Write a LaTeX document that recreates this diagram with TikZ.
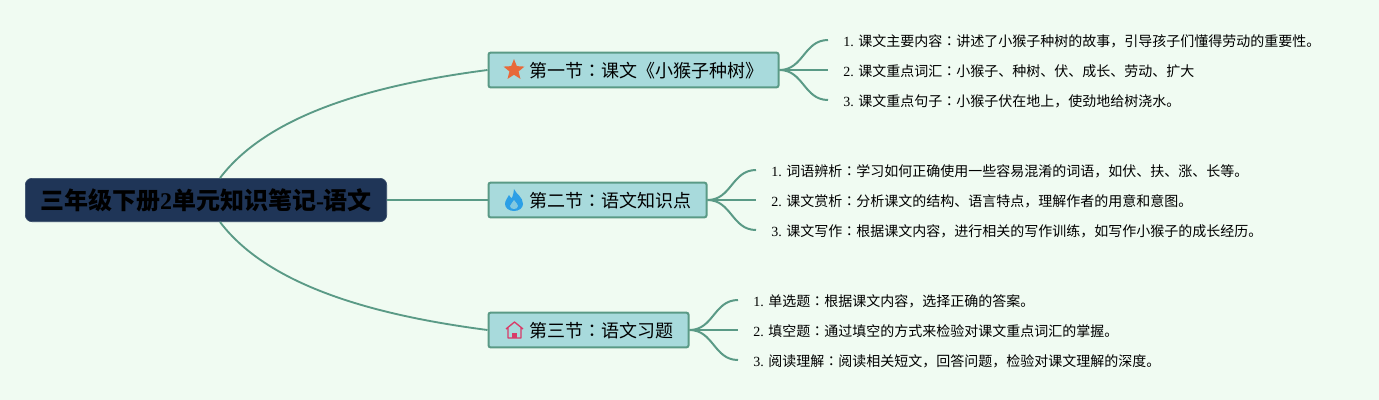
\documentclass[tikz,border=0pt]{standalone}
\usepackage{fontspec}
\setmainfont{Liberation Serif}
\newfontfamily\cjk{Noto Sans CJK SC}
\newfontfamily\cjktc{Noto Sans CJK TC}
\usetikzlibrary{shapes.geometric}
\definecolor{pagebg}{HTML}{F0FBF2}
\definecolor{rootfill}{HTML}{1F3557}
\definecolor{secfill}{HTML}{A8DADC}
\definecolor{linecol}{HTML}{5A9A86}
\definecolor{starcol}{HTML}{E8693A}
\definecolor{flamecol}{HTML}{2C9FE6}
\definecolor{housecol}{HTML}{D93A68}
\tikzset{
  rootbox/.style={fill=rootfill,draw=rootfill!90!white,line width=0.5pt,rounded corners=5pt,minimum width=271pt,minimum height=32.5pt,inner sep=0pt,text=black,font=\fontsize{18}{21}\selectfont\bfseries},
  secbox/.style={fill=secfill,draw=linecol,line width=1.5pt,rounded corners=1.5pt,minimum height=26pt,inner sep=0pt,text=black,font=\fontsize{13.5}{16}\selectfont},
  leafbox/.style={anchor=west,inner xsep=11.25pt,inner ysep=0pt,text height=11.2pt,text depth=2pt,text=black,font=\fontsize{10.5}{13}\selectfont},
  link/.style={draw=linecol,line width=1.4pt},
  thinlink/.style={draw=linecol,line width=1.5pt}
}
\newcommand{\zc}{{\cjktc ：}}
% name, left x, right x, y, text
\newcommand{\secnode}[5]{\node[secbox,minimum width=#3*0.75pt-#2*0.75pt,anchor=west] (#1) at (#2,#4) {};
  \node[anchor=west,inner sep=0pt,yshift=-0.6pt,font=\fontsize{13.5}{16}\selectfont] (#1text) at (529,#4) {\cjk #5};}
% section, name, x, y, number, text
\newcommand{\leafnode}[6]{\node[leafbox] (#2) at (#3,#4) {#5. {\cjk #6}};
  \draw[thinlink] (#1.east) .. controls +(24,0) and +(-24,0) .. (#2.west);}
\begin{document}
\begin{tikzpicture}[x=0.75pt,y=-0.75pt]
  \useasboundingbox[fill=pagebg] (0,0) rectangle (1379,400);
  % root
  \node[rootbox] (root) at (206,200) {{\cjk 三年级下册}2{\cjk 单元知识笔记}-{\cjk 语文}};
  \coordinate (roottop) at (220,178);
  \coordinate (rootbot) at (220,222);
  % section 1
  \secnode{secone}{487.5}{777.5}{70}{第一节\zc 课文《小猴子种树》}
  \node[star,star points=5,star point ratio=2.3,fill=starcol,inner sep=0pt,minimum size=16.5pt] (star) at (514,70) {};
  \leafnode{secone}{leafa}{828}{40}{1}{课文主要内容\zc 讲述了小猴子种树的故事，引导孩子们懂得劳动的重要性。}
  \leafnode{secone}{leafb}{828}{70}{2}{课文重点词汇\zc 小猴子、种树、伏、成长、劳动、扩大}
  \leafnode{secone}{leafc}{828}{100}{3}{课文重点句子\zc 小猴子伏在地上，使劲地给树浇水。}
  % section 2
  \secnode{sectwo}{487.5}{705.5}{200}{第二节\zc 语文知识点}
  \fill[flamecol] (514,189) .. controls (516,194) and (523,197) .. (523,204) .. controls (523,208) and (519,211) .. (514,211) .. controls (509,211) and (505,208) .. (505,204) .. controls (505,200) and (508,198) .. (509,195) .. controls (510,197) and (511,198) .. (512,198) .. controls (513,195) and (514,192) .. (514,189) -- cycle;
  \fill[secfill!70!flamecol] (514,200) .. controls (516,203) and (518,204) .. (518,206) .. controls (518,208) and (516,209) .. (514,209) .. controls (512,209) and (510,208) .. (510,206) .. controls (510,204) and (513,203) .. (514,200) -- cycle;
  \leafnode{sectwo}{leafd}{756}{170}{1}{词语辨析\zc 学习如何正确使用一些容易混淆的词语，如伏、扶、涨、长等。}
  \leafnode{sectwo}{leafe}{756}{200}{2}{课文赏析\zc 分析课文的结构、语言特点，理解作者的用意和意图。}
  \leafnode{sectwo}{leaff}{756}{230}{3}{课文写作\zc 根据课文内容，进行相关的写作训练，如写作小猴子的成长经历。}
  % section 3
  \secnode{secthree}{487.5}{687.5}{330}{第三节\zc 语文习题}
  \draw[housecol,line width=1pt,line join=round] (506,329) -- (514.5,322) -- (523,329) (508,328) -- (508,338) -- (521,338) -- (521,328);
  \fill[housecol] (512,338) -- (512,333) -- (517,333) -- (517,338) -- cycle;
  \leafnode{secthree}{leafg}{738}{300}{1}{单选题\zc 根据课文内容，选择正确的答案。}
  \leafnode{secthree}{leafh}{738}{330}{2}{填空题\zc 通过填空的方式来检验对课文重点词汇的掌握。}
  \leafnode{secthree}{leafi}{738}{360}{3}{阅读理解\zc 阅读相关短文，回答问题，检验对课文理解的深度。}
  % root to sections
  \draw[link] (roottop) .. controls (270,112) and (380,84) .. (secone.west);
  \draw[link] (root.east) -- (sectwo.west);
  \draw[link] (rootbot) .. controls (270,288) and (380,316) .. (secthree.west);
\end{tikzpicture}
\end{document}
